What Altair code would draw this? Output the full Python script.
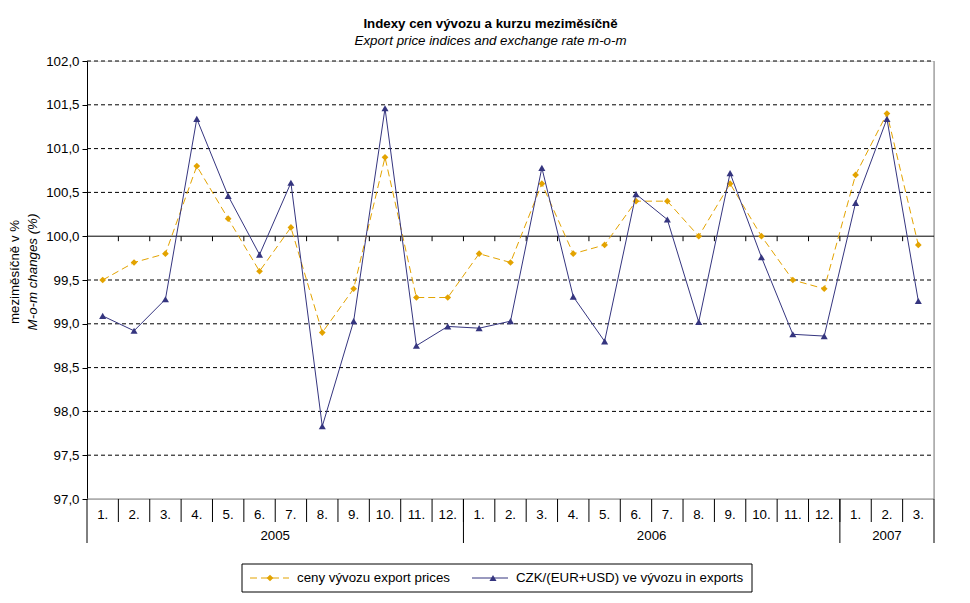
import altair as alt
import pandas as pd

# ---------------- data ----------------
years = ["2005", "2006", "2007"]
months_per_year = [12, 12, 3]
month_labels = [f"{m}." for n in months_per_year for m in range(1, n + 1)]

series_names = ["ceny vývozu export prices", "CZK/(EUR+USD) ve vývozu in exports"]

export_prices = [99.5, 99.7, 99.8, 100.8, 100.2, 99.6, 100.1, 98.9, 99.4, 100.9, 99.3, 99.3,
                 99.8, 99.7, 100.6, 99.8, 99.9, 100.4, 100.4, 100.0, 100.6, 100.0, 99.5, 99.4,
                 100.7, 101.4, 99.9]
czk_rate = [99.09, 98.92, 99.28, 101.34, 100.46, 99.79, 100.61, 97.83, 99.03, 101.46, 98.75, 98.97,
            98.95, 99.03, 100.78, 99.31, 98.80, 100.48, 100.19, 99.02, 100.72, 99.76, 98.88, 98.86,
            100.38, 101.34, 99.26]

y_ticks = [97.0, 97.5, 98.0, 98.5, 99.0, 99.5, 100.0, 100.5, 101.0, 101.5, 102.0]

title_text = "Indexy cen vývozu a kurzu meziměsíčně"
subtitle_text = "Export price indices and exchange rate m-o-m"
y_title_cz = "meziměsíčně v %"
y_title_en = "M-o-m changes (%)"

# ---------------- styles ----------------
FONT = "Liberation Sans"
FS = 13.3
ORANGE = "#E3A300"
BLUE = "#35357F"
W, H = 847, 438
n = len(month_labels)

xs = alt.Scale(domain=[0, n], nice=False, zero=False)
ys = alt.Scale(domain=[97, 102], nice=False, zero=False)

y_axis = alt.Axis(
    values=y_ticks, title=None, grid=False,
    labelExpr="replace(format(datum.value, '.1f'), '.', ',')",
    labelFont=FONT, labelFontSize=FS, labelColor="black", labelPadding=3,
    tickColor="black", tickSize=5, domainColor="black", domainWidth=1,
)

df = pd.DataFrame({
    "x": [i + 0.5 for i in range(n)],
    "month": month_labels,
    "export": export_prices,
    "czk": czk_rate,
})

bounds = [0]
for k in months_per_year:
    bounds.append(bounds[-1] + k)
year_df = pd.DataFrame({
    "year": years,
    "xc": [(bounds[i] + bounds[i + 1]) / 2 for i in range(len(years))],
})
year_bounds_df = pd.DataFrame({"b": bounds})
month_bounds_df = pd.DataFrame({"b": list(range(1, n))})
grid_df = pd.DataFrame({"v": [v for v in y_ticks if v not in (97.0, 100.0)]})


def X(f):
    return alt.X(f, type="quantitative", scale=xs, axis=None)


def Y(f):
    return alt.Y(f, type="quantitative", scale=ys, axis=y_axis)


one_row = pd.DataFrame({"v": [1]})

grid = alt.Chart(grid_df).mark_rule(color="black", strokeDash=[4, 3], strokeWidth=1).encode(
    y=Y("v"), x=alt.value(0), x2=alt.value(W)
)
base100 = alt.Chart(pd.DataFrame({"v": [100.0]})).mark_rule(color="black", strokeWidth=1).encode(
    y=Y("v"), x=alt.value(0), x2=alt.value(W)
)
ticks100 = alt.Chart(month_bounds_df).transform_calculate(
    y0="100", y1="99.943"
).mark_rule(color="black").encode(
    x=X("b"), y=Y("y0"), y2="y1:Q"
)
bottom = alt.Chart(pd.DataFrame({"v": [97.0]})).mark_rule(color="#808080").encode(
    y=Y("v"), x=alt.value(0), x2=alt.value(W)
)
right_border = alt.Chart(one_row).mark_rule(color="#808080").encode(
    x=alt.value(W), y=alt.value(0), y2=alt.value(H)
)

month_sep = alt.Chart(month_bounds_df).mark_rule(color="black").encode(
    x=X("b"), y=alt.value(H), y2=alt.value(H + 23)
)
year_sep = alt.Chart(year_bounds_df).mark_rule(color="black").encode(
    x=X("b"), y=alt.value(H), y2=alt.value(H + 44)
)
month_text = alt.Chart(df).mark_text(font=FONT, fontSize=FS, baseline="middle", color="black").encode(
    x=X("x"), y=alt.value(H + 16), text="month:N"
)
year_text = alt.Chart(year_df).mark_text(font=FONT, fontSize=FS, baseline="middle", color="black").encode(
    x=X("xc"), y=alt.value(H + 37), text="year:N"
)

export_line = alt.Chart(df).mark_line(color=ORANGE, strokeWidth=1, strokeDash=[7, 4]).encode(
    x=X("x"), y=Y("export")
)
export_pts = alt.Chart(df).mark_point(shape="diamond", filled=True, color=ORANGE, size=45, opacity=1).encode(
    x=X("x"), y=Y("export")
)
czk_line = alt.Chart(df).mark_line(color=BLUE, strokeWidth=1).encode(
    x=X("x"), y=Y("czk")
)
czk_pts = alt.Chart(df).mark_point(shape="triangle-up", filled=True, color=BLUE, size=50, opacity=1).encode(
    x=X("x"), y=Y("czk")
)

ytitle1 = alt.Chart(pd.DataFrame({"t": [y_title_cz]})).mark_text(
    font=FONT, fontSize=FS, angle=270, baseline="middle", align="center").encode(
    x=alt.value(-72), y=alt.value(211), text="t:N"
)
ytitle2 = alt.Chart(pd.DataFrame({"t": [y_title_en]})).mark_text(
    font=FONT, fontSize=FS, angle=270, baseline="middle", align="center", fontStyle="italic").encode(
    x=alt.value(-54), y=alt.value(211), text="t:N"
)

LY = 517
leg_box = alt.Chart(one_row).mark_rect(fill="white", stroke="black", strokeWidth=1).encode(
    x=alt.value(155), x2=alt.value(665), y=alt.value(503), y2=alt.value(531)
)
leg_l1 = alt.Chart(one_row).mark_rule(color=ORANGE, strokeDash=[7, 4]).encode(
    x=alt.value(163), x2=alt.value(202), y=alt.value(LY)
)
leg_p1 = alt.Chart(one_row).mark_point(shape="diamond", filled=True, color=ORANGE, size=45, opacity=1).encode(
    x=alt.value(183), y=alt.value(LY)
)
leg_t1 = alt.Chart(pd.DataFrame({"t": [series_names[0]]})).mark_text(
    font=FONT, fontSize=FS, align="left", baseline="middle").encode(
    x=alt.value(210), y=alt.value(LY), text="t:N"
)
leg_l2 = alt.Chart(one_row).mark_rule(color=BLUE).encode(
    x=alt.value(385), x2=alt.value(421), y=alt.value(LY)
)
leg_p2 = alt.Chart(one_row).mark_point(shape="triangle-up", filled=True, color=BLUE, size=50, opacity=1).encode(
    x=alt.value(406), y=alt.value(LY)
)
leg_t2 = alt.Chart(pd.DataFrame({"t": [series_names[1]]})).mark_text(
    font=FONT, fontSize=FS, align="left", baseline="middle").encode(
    x=alt.value(429), y=alt.value(LY), text="t:N"
)

chart = alt.layer(
    grid, bottom, right_border, base100, ticks100,
    month_sep, year_sep, month_text, year_text,
    export_line, export_pts, czk_line, czk_pts,
    ytitle1, ytitle2,
    leg_box, leg_l1, leg_p1, leg_t1, leg_l2, leg_p2, leg_t2,
).properties(
    width=W, height=H,
    title=alt.Title(
        title_text, subtitle=subtitle_text,
        font=FONT, fontSize=FS, fontWeight="bold", color="black",
        subtitleFont=FONT, subtitleFontSize=FS, subtitleFontStyle="italic", subtitleColor="black",
        subtitlePadding=3, anchor="middle", dx=-20, offset=7,
    ),
    autosize=alt.AutoSizeParams(type="none"),
    padding={"left": 79, "top": 53, "right": 20, "bottom": 102},
).configure_view(stroke=None).configure(background="white")

chart.save("out.html", embed_options={"renderer": "svg", "actions": False})
